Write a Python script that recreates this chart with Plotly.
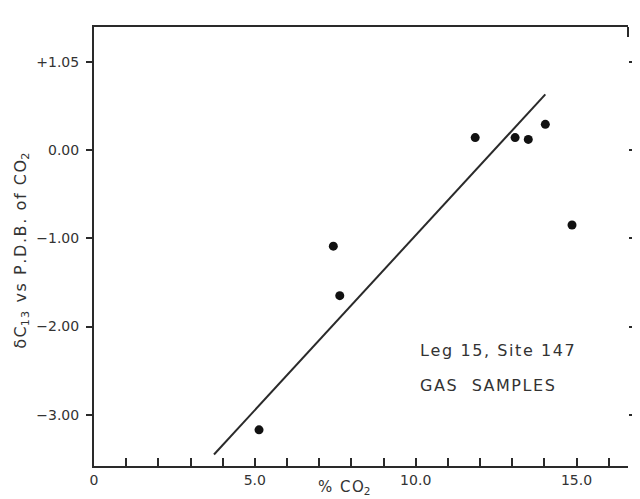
import plotly.graph_objects as go

# Data
co2_pct = [5.13, 7.44, 7.64, 11.85, 13.09, 13.50, 14.03, 14.86]
delta_c13 = [-3.17, -1.09, -1.65, 0.14, 0.14, 0.12, 0.29, -0.85]

# Fitted line end points
fit_x = [3.73, 14.03]
fit_y = [-3.45, 0.63]

x_tickvals = [0, 5, 10, 15]
x_ticktext = ["0", "5.0", "10.0", "15.0"]
y_tickvals = [1.0, 0.0, -1.0, -2.0, -3.0]
y_ticktext = ["+1.05", "0.00", "\u22121.00", "\u22122.00", "\u22123.00"]

XR = [0, 16.6]
YR = [-3.58, 1.393]
FONT = "DejaVu Sans"
INK = "#2a2a2a"
TXT = "#333333"
HS = "\u200a"


def spaced(s):
    return HS.join(list(s))


fig = go.Figure()
fig.add_trace(go.Scatter(x=fit_x, y=fit_y, mode="lines",
                         line=dict(color=INK, width=2), showlegend=False, hoverinfo="skip"))
fig.add_trace(go.Scatter(x=co2_pct, y=delta_c13, mode="markers",
                         marker=dict(color="#111111", size=9), showlegend=False))
# invisible trace to activate the right-hand tick axis
fig.add_trace(go.Scatter(x=[None], y=[None], xaxis="x2", yaxis="y2", showlegend=False))

ytitle = (spaced("δC") + "<sub>" + spaced("13") + "</sub>" + HS + spaced(" vs P.D.B. of CO")
          + "<sub>2</sub>")

fig.update_layout(
    width=640, height=499,
    margin=dict(l=86, r=17, t=19, b=41),
    paper_bgcolor="white", plot_bgcolor="white",
    font=dict(family=FONT, color=TXT, size=14),
    xaxis=dict(range=XR, tickvals=x_tickvals, ticktext=x_ticktext,
               ticks="inside", ticklen=8, tickwidth=1.5, tickcolor=INK,
               minor=dict(tick0=0, dtick=1, ticks="inside", ticklen=8, tickwidth=1.5,
                          tickcolor=INK, showgrid=False),
               showline=True, linecolor=INK, linewidth=2, showgrid=False,
               zeroline=False, tickfont=dict(size=14, color=TXT)),
    yaxis=dict(range=YR, tickvals=y_tickvals, ticktext=y_ticktext,
               ticks="outside", ticklen=6, tickwidth=1.5, tickcolor=INK,
               ticklabelstandoff=4,
               showline=True, linecolor=INK, linewidth=2, showgrid=False,
               zeroline=False, tickfont=dict(size=14, color=TXT)),
    xaxis2=dict(range=XR, overlaying="x", side="top", showticklabels=False,
                ticks="", showline=True, linecolor=INK, linewidth=2,
                showgrid=False, zeroline=False),
    yaxis2=dict(range=YR, overlaying="y", side="right", tickvals=y_tickvals,
                ticks="outside", ticklen=8, tickwidth=1.5, tickcolor=INK,
                showticklabels=False, showline=False, showgrid=False, zeroline=False),
    shapes=[
        dict(type="line", xref="paper", yref="paper", x0=1, x1=1, y0=1, y1=1 - 10 / 439,
             line=dict(color=INK, width=2)),
    ],
    annotations=[
        dict(text=spaced("% CO") + "<sub>2</sub>", xref="paper", yref="paper", x=0.468, y=-0.049,
             xanchor="center", yanchor="middle", showarrow=False,
             font=dict(size=15, color=TXT)),
        dict(text=ytitle, xref="paper", yref="paper",
             x=-0.135, y=0.49, xanchor="center", yanchor="middle", textangle=-90,
             showarrow=False, font=dict(size=16, color=TXT)),
        dict(text=spaced("Leg 15, Site 147"), xref="paper", yref="paper", x=0.607, y=0.262,
             xanchor="left", yanchor="middle", showarrow=False,
             font=dict(size=16, color=TXT)),
        dict(text=spaced("GAS  SAMPLES"), xref="paper", yref="paper", x=0.607, y=0.183,
             xanchor="left", yanchor="middle", showarrow=False,
             font=dict(size=16, color=TXT)),
    ],
)

fig.write_html("out.html")
